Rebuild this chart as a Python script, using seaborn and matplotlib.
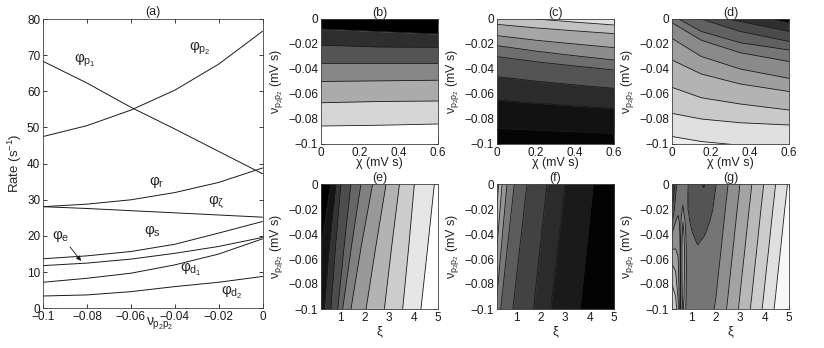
import numpy as np
import pandas as pd
import matplotlib
matplotlib.use("Agg")
import matplotlib.pyplot as plt
import seaborn as sns

# ---------------- panel (a): rates vs v_p2p2 ----------------
v_a = [-0.1, -0.08, -0.06, -0.04, -0.02, 0.0]
phi_p1 = [68.3, 62.3, 55.6, 49.6, 43.4, 37.2]
phi_p2 = [47.5, 50.5, 54.8, 60.3, 67.5, 76.6]
phi_r = [28.1, 28.8, 30.0, 32.0, 34.8, 38.8]
phi_zeta = [28.1, 27.6, 27.0, 26.4, 25.8, 25.2]
phi_s = [13.7, 14.5, 15.7, 17.7, 20.8, 24.0]
phi_e = [11.8, 12.5, 13.6, 15.2, 17.1, 19.6]
phi_d1 = [7.2, 8.3, 9.7, 12.0, 15.0, 19.2]
phi_d2 = [3.4, 3.7, 4.6, 6.0, 7.2, 8.8]
rate_names = ["p1", "p2", "r", "zeta", "s", "e", "d1", "d2"]
rate_texts = [r"$φ_{p_1}$", r"$φ_{p_2}$", r"$φ_r$", r"$φ_ζ$", r"$φ_s$",
              r"$φ_e$", r"$φ_{d_1}$", r"$φ_{d_2}$"]
text_x = [-0.081, -0.0285, -0.0483, -0.0212, -0.0502, -0.0918, -0.0328, -0.0138]
text_y = [68.6, 71.8, 34.9, 29.4, 21.4, 19.9, 10.7, 4.3]
arrow_from = (-0.0885, 17.6)
arrow_to = (-0.0819, 12.5)
a_xticks = [-0.1, -0.08, -0.06, -0.04, -0.02, 0.0]
a_xticklabels = ["−0.1", "−0.08", "−0.06", "−0.04", "−0.02", "0"]
a_yticks = [0, 10, 20, 30, 40, 50, 60, 70, 80]

# ---------------- contour panels ----------------
v_ticks = [0, -0.02, -0.04, -0.06, -0.08, -0.1]
v_ticklabels = ["0", "−0.02", "−0.04", "−0.06", "−0.08", "−0.1"]
chi_ticks = [0, 0.2, 0.4, 0.6]
chi_ticklabels = ["0", "0.2", "0.4", "0.6"]
xi_ticks = [1, 2, 3, 4, 5]

# (b) contour lines v(chi), top to bottom
chi_b = [0.0, 0.3, 0.6]
lines_b = [[-0.008, -0.010, -0.012],
           [-0.021, -0.0225, -0.0227],
           [-0.035, -0.035, -0.035],
           [-0.050, -0.0495, -0.049],
           [-0.067, -0.066, -0.0656],
           [-0.0856, -0.085, -0.084]]
shades_b = [0.0, 0.18, 0.33, 0.53, 0.67, 0.84, 1.0]

# (c)
chi_c = [0.0, 0.2, 0.4, 0.6]
lines_c = [[0.003, 0.0, -0.0025, -0.0048],
           [-0.0043, -0.0071, -0.0095, -0.0117],
           [-0.0133, -0.0170, -0.0200, -0.0229],
           [-0.0213, -0.0257, -0.0294, -0.0328],
           [-0.0301, -0.0342, -0.0376, -0.0408],
           [-0.0461, -0.0497, -0.0527, -0.0555],
           [-0.0648, -0.0673, -0.0695, -0.0715],
           [-0.0875, -0.0890, -0.0903, -0.0915]]
shades_c = [0.88, 0.76, 0.65, 0.55, 0.43, 0.33, 0.17, 0.07, 0.02]

# (d)
chi_d = [0.0, 0.15, 0.35, 0.6]
lines_d = [[0.012, 0.008, 0.004, -0.003],
           [0.010, 0.004, -0.002, -0.010],
           [0.008, 0.0, -0.010, -0.018],
           [0.003, -0.010, -0.019, -0.0248],
           [-0.003, -0.017, -0.027, -0.034],
           [-0.0155, -0.030, -0.040, -0.0475],
           [-0.0328, -0.044, -0.052, -0.058],
           [-0.0547, -0.063, -0.068, -0.0728],
           [-0.0755, -0.080, -0.083, -0.0848],
           [-0.094, -0.098, -0.101, -0.104]]
shades_d = [0.02, 0.18, 0.29, 0.38, 0.46, 0.54, 0.62, 0.70, 0.79, 0.88, 0.93]

# (e) contour lines xi(v), left to right
v_e = [0.0, -0.05, -0.1]
lines_e = [[0.60, 0.20, -0.2],
           [0.82, 0.55, 0.34],
           [1.02, 0.80, 0.61],
           [1.43, 1.15, 0.89],
           [1.84, 1.45, 1.09],
           [2.32, 1.85, 1.43],
           [2.87, 2.45, 2.05],
           [3.42, 3.10, 2.80],
           [4.03, 3.80, 3.55],
           [4.85, 4.58, 4.30]]
shades_e = [0.0, 0.08, 0.2, 0.3, 0.4, 0.5, 0.6, 0.7, 0.8, 0.9, 1.0]

# (f)
v_f = [0.0, -0.05, -0.1]
lines_f = [[0.27, 0.07, -0.13],
           [0.41, 0.20, 0.0],
           [0.61, 0.38, 0.15],
           [0.91, 0.63, 0.35],
           [1.43, 1.14, 0.85],
           [2.25, 1.97, 1.70],
           [3.00, 2.70, 2.40],
           [4.14, 3.87, 3.60]]
shades_f = [0.82, 0.70, 0.59, 0.47, 0.36, 0.26, 0.17, 0.10, 0.01]

# (g) level field on a coarse grid (rows: v, columns: xi)
xi_g = [0.2, 0.35, 0.45, 0.55, 0.65, 0.8, 1.0, 1.25, 1.5, 1.75, 2.0,
        2.5, 3.0, 3.5, 4.0, 4.5, 5.0]
v_g = [0.0, -0.01, -0.02, -0.03, -0.04, -0.05, -0.07, -0.09, -0.1]
z_g = [
    [0.2, 2.0, 2.9, 3.2, 3.2, 2.65, 2.2, 2.0, 1.3, 2.1, 2.48, 3.50, 4.53, 5.55, 6.58, 7.60, 8.63],
    [0.6, 2.6, 3.1, 3.2, 3.3, 2.60, 2.2, 1.9, 2.0, 2.2, 2.59, 3.61, 4.64, 5.66, 6.69, 7.71, 8.74],
    [1.4, 3.0, 3.3, 3.3, 3.6, 2.60, 2.25, 2.0, 2.1, 2.3, 2.70, 3.73, 4.76, 5.78, 6.81, 7.83, 8.86],
    [2.4, 3.5, 3.7, 3.3, 4.5, 2.80, 2.35, 2.05, 2.2, 2.5, 2.82, 3.84, 4.87, 5.89, 6.92, 7.94, 8.97],
    [3.5, 4.0, 4.0, 3.3, 5.0, 3.10, 2.6, 2.2, 2.45, 2.65, 2.93, 3.95, 4.98, 6.00, 7.03, 8.05, 9.08],
    [4.3, 4.4, 4.3, 3.3, 5.3, 3.30, 2.9, 2.55, 2.65, 2.8, 3.04, 4.06, 5.09, 6.11, 7.14, 8.16, 9.19],
    [6.0, 5.5, 4.8, 3.3, 5.3, 3.40, 3.0, 2.85, 2.9, 3.0, 3.27, 4.29, 5.32, 6.34, 7.37, 8.39, 9.42],
    [7.0, 6.5, 5.4, 3.3, 5.0, 3.30, 3.0, 3.0, 3.0, 3.15, 3.49, 4.51, 5.54, 6.56, 7.59, 8.61, 9.64],
    [7.5, 7.0, 5.8, 3.3, 4.6, 3.20, 3.0, 3.0, 3.05, 3.25, 3.60, 4.63, 5.66, 6.68, 7.71, 8.73, 9.76],
]
levels_g = [-1, 0.5, 1.5, 2.5, 3.5, 4.5, 5.5, 6.5, 7.5, 8.5, 20]
shades_g = [0.05, 0.22, 0.33, 0.46, 0.56, 0.64, 0.72, 0.80, 0.88, 0.97]

# ---------------- style ----------------
sns.set_theme(style="ticks")
plt.rcParams["font.family"] = ["Liberation Sans", "DejaVu Sans"]
plt.rcParams["font.size"] = 8.5
plt.rcParams["mathtext.fontset"] = "custom"
plt.rcParams["mathtext.rm"] = "Liberation Sans"
plt.rcParams["mathtext.it"] = "Liberation Sans"
plt.rcParams["mathtext.bf"] = "Liberation Sans:bold"
plt.rcParams["axes.linewidth"] = 0.6

fig = plt.figure(figsize=(8.24, 3.48), dpi=100)
W, H = 824.0, 348.0


def add_ax(x0, y0, x1, y1):
    return fig.add_axes([x0 / W, 1 - y1 / H, (x1 - x0) / W, (y1 - y0) / H])


def style(ax):
    ax.tick_params(direction="in", top=True, right=True, length=3, width=0.6,
                   pad=2, labelsize=8.5, colors="k")
    for s in ax.spines.values():
        s.set_linewidth(0.6)
        s.set_color("0.25")


# ---- panel (a)
ax = add_ax(43, 19, 262.5, 308.3)
series = {"p1": phi_p1, "p2": phi_p2, "r": phi_r, "zeta": phi_zeta,
          "s": phi_s, "e": phi_e, "d1": phi_d1, "d2": phi_d2}
df = pd.DataFrame([{"v": v, "rate": y, "series": k}
                   for k in rate_names for v, y in zip(v_a, series[k])])
sns.lineplot(data=df, x="v", y="rate", units="series", estimator=None,
             color="k", lw=0.7, ax=ax, legend=False)
for t, x, y in zip(rate_texts, text_x, text_y):
    ax.text(x, y, t, ha="center", va="center", fontsize=11)
ax.annotate("", xy=arrow_to, xytext=arrow_from,
            arrowprops=dict(arrowstyle="-|>", color="k", lw=0.6,
                            mutation_scale=7))
ax.set_xlim(-0.1, 0)
ax.set_ylim(0, 80)
ax.set_xticks(a_xticks)
ax.set_xticklabels(a_xticklabels)
ax.set_yticks(a_yticks)
ax.set_ylabel(r"Rate (s$^{-1}$)", fontsize=9.5, labelpad=2)
ax.set_xlabel(r"$ν_{p_2p_2}$", fontsize=10, labelpad=-5, x=0.53)
ax.set_title("(a)", fontsize=9, pad=3)
style(ax)

ylab = r"$ν_{p_2p_2}$ (mV s)"


def hbands(ax, x, lines, shades):
    x = np.asarray(x, float)
    edges = [np.full(len(x), 1.0)] + [np.asarray(l, float) for l in lines] + \
            [np.full(len(x), -1.0)]
    for upper, lower, s in zip(edges[:-1], edges[1:], shades):
        ax.fill_between(x, lower, upper, color=str(s), lw=0.3, ec=str(s))
    for l in lines:
        ax.plot(x, l, color="k", lw=0.6)


def vbands(ax, v, lines, shades):
    v = np.asarray(v, float)
    edges = [np.full(len(v), -10.0)] + [np.asarray(l, float) for l in lines] + \
            [np.full(len(v), 10.0)]
    for left, right, s in zip(edges[:-1], edges[1:], shades):
        ax.fill_betweenx(v, left, right, color=str(s), lw=0.3, ec=str(s))
    for l in lines:
        ax.plot(l, v, color="k", lw=0.6)


cols = [(321, 438), (497, 614), (672, 789)]
top_row = (19, 144)
bot_row = (184, 309)

panels = [
    ("(b)", cols[0], top_row, "h", chi_b, lines_b, shades_b),
    ("(c)", cols[1], top_row, "h", chi_c, lines_c, shades_c),
    ("(d)", cols[2], top_row, "h", chi_d, lines_d, shades_d),
    ("(e)", cols[0], bot_row, "v", v_e, lines_e, shades_e),
    ("(f)", cols[1], bot_row, "v", v_f, lines_f, shades_f),
    ("(g)", cols[2], bot_row, "g", None, None, None),
]

for title, (x0, x1), (y0, y1), kind, grid, lines, shades in panels:
    ax = add_ax(x0, y0, x1, y1)
    if kind == "h":
        hbands(ax, grid, lines, shades)
        ax.set_xlim(0, 0.6)
        ax.set_xticks(chi_ticks)
        ax.set_xticklabels(chi_ticklabels)
        ax.set_xlabel("χ (mV s)", fontsize=9, labelpad=-1)
    else:
        if kind == "v":
            vbands(ax, grid, lines, shades)
        else:
            X, Y = np.meshgrid(xi_g, v_g)
            Z = np.array(z_g)
            ax.contourf(X, Y, Z, levels=levels_g,
                        colors=[str(s) for s in shades_g])
            ax.contour(X, Y, Z, levels=levels_g[1:-1], colors="k",
                       linewidths=0.6)
        ax.set_xlim(0.2, 5)
        ax.set_xticks(xi_ticks)
        ax.set_xlabel("ξ", fontsize=9.5, labelpad=1)
    ax.set_ylim(-0.1, 0)
    ax.set_yticks(v_ticks)
    ax.set_yticklabels(v_ticklabels)
    ax.set_ylabel(ylab, fontsize=9, labelpad=2)
    ax.set_title(title, fontsize=9, pad=2)
    style(ax)

fig.savefig("out.png", dpi=100)
